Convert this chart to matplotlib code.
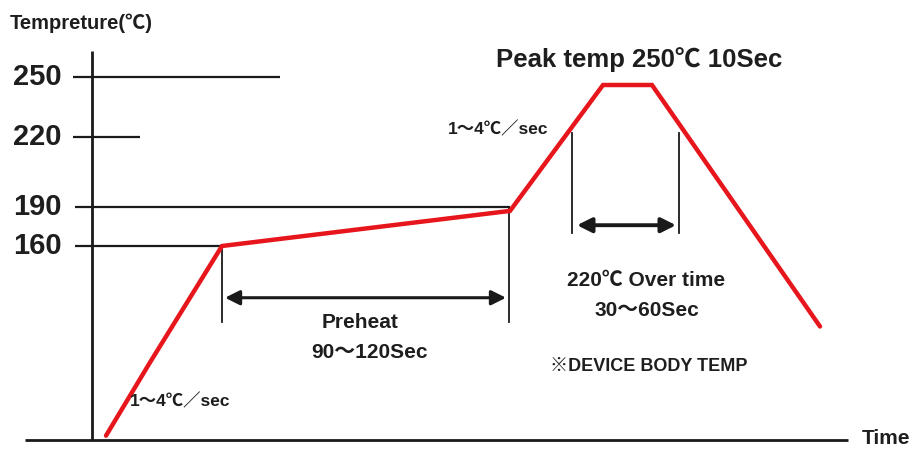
import numpy as np
import matplotlib
matplotlib.use("Agg")
import matplotlib.pyplot as plt

# ---- data ----
# temperature ticks (°C) and their schematic heights on the diagram
tick_temps = [250, 220, 190, 160]
tick_labels = ["250", "220", "190", "160"]
# piecewise scale anchors: temperature -> height (schematic, non-linear axis)
scale_temps = [-50, 25, 160, 190, 220, 250, 300]
scale_heights = [-98.8, 9, 203, 242, 312, 372, 449]

# reflow profile (time in arbitrary schematic units, temp in °C)
profile_time = [106, 150, 222, 510, 603, 652, 820]
profile_temp = [28, 79, 160, 187, 246, 246, 104]

# reference level lines: (temp, x start, x end)
ref_temps = [250, 220, 190, 160]
ref_start = [73, 73, 75, 75]
ref_end = [280, 140, 510, 222]

# preheat window markers
preheat_time = [222, 509]
preheat_top = [160, 190]
preheat_bottom = 107
preheat_arrow_temp = 124

# 220°C over-time markers
over_time = [572, 679]
over_top = 222
over_bottom = 170
over_arrow_temp = 176

axis_temp_base = 25
axis_temp_top = 267

# ---- scale ----
def fwd(t):
    return np.interp(t, scale_temps, scale_heights)

def inv(h):
    return np.interp(h, scale_heights, scale_temps)

W, H = 914, 449
fig = plt.figure(figsize=(W / 100, H / 100), dpi=100)
ax = fig.add_axes([0, 0, 1, 1])
ax.set_yscale("function", functions=(fwd, inv))
ax.set_xlim(0, W)
ax.set_ylim(inv(0), inv(H))
ax.axis("off")

FAM = ["Liberation Sans", "Noto Sans CJK JP", "DejaVu Sans"]
TC = "#1e1e1e"
BLK = "#1a1a1a"
RED = "#e6161c"

# axes lines
ax.plot([92, 92], [axis_temp_base, axis_temp_top], color=BLK, lw=2.0, solid_capstyle="butt")
ax.plot([25, 848], [axis_temp_base, axis_temp_base], color=BLK, lw=2.0, solid_capstyle="butt")

# reference lines
for t, x0, x1 in zip(ref_temps, ref_start, ref_end):
    ax.plot([x0, x1], [t, t], color=BLK, lw=1.6, solid_capstyle="butt")

# preheat markers
for x, top in zip(preheat_time, preheat_top):
    ax.plot([x, x], [top, preheat_bottom], color=BLK, lw=1.3)
ax.annotate("", xy=(preheat_time[0] + 3, preheat_arrow_temp),
            xytext=(preheat_time[1] - 3, preheat_arrow_temp),
            arrowprops=dict(arrowstyle="<|-|>", color=BLK, lw=2.2,
                            mutation_scale=22, shrinkA=0, shrinkB=0))

# over-time markers
for x in over_time:
    ax.plot([x, x], [over_top, over_bottom], color=BLK, lw=1.3)
ax.annotate("", xy=(over_time[0] + 5, over_arrow_temp),
            xytext=(over_time[1] - 3, over_arrow_temp),
            arrowprops=dict(arrowstyle="<|-|>", color=BLK, lw=2.8,
                            mutation_scale=22, shrinkA=0, shrinkB=0))

# profile
ax.plot(profile_time, profile_temp, color=RED, lw=3.2, solid_joinstyle="miter",
        solid_capstyle="round", zorder=5)

# tick labels
for t, lab in zip(tick_temps, tick_labels):
    ax.text(37, t, lab, ha="center", va="center", fontsize=21, fontweight="bold",
            family=FAM, color=TC)

def ftext(x, y, s, **kw):
    kw.setdefault("family", FAM)
    kw.setdefault("color", TC)
    kw.setdefault("fontweight", "bold")
    fig.text(x / W, 1 - y / H, s, **kw)

ftext(10, 23, "Tempreture(℃)", fontsize=14.5, ha="left", va="center")
ftext(639, 60, "Peak temp 250℃ 10Sec", fontsize=18.5, ha="center", va="center")
ftext(498, 129, "1～4℃／sec", fontsize=12.5, ha="center", va="center")
ftext(180, 401, "1～4℃／sec", fontsize=12.5, ha="center", va="center")
ftext(360, 322, "Preheat", fontsize=15, ha="center", va="center")
ftext(370, 352, "90～120Sec", fontsize=15, ha="center", va="center")
ftext(646, 281, "220℃ Over time", fontsize=15, ha="center", va="center")
ftext(647, 310, "30～60Sec", fontsize=15, ha="center", va="center")
ftext(649, 366, "※DEVICE BODY TEMP", fontsize=13, ha="center", va="center")
ftext(886, 439, "Time", fontsize=15, ha="center", va="center")

fig.savefig("out.png", dpi=100, facecolor="white")
